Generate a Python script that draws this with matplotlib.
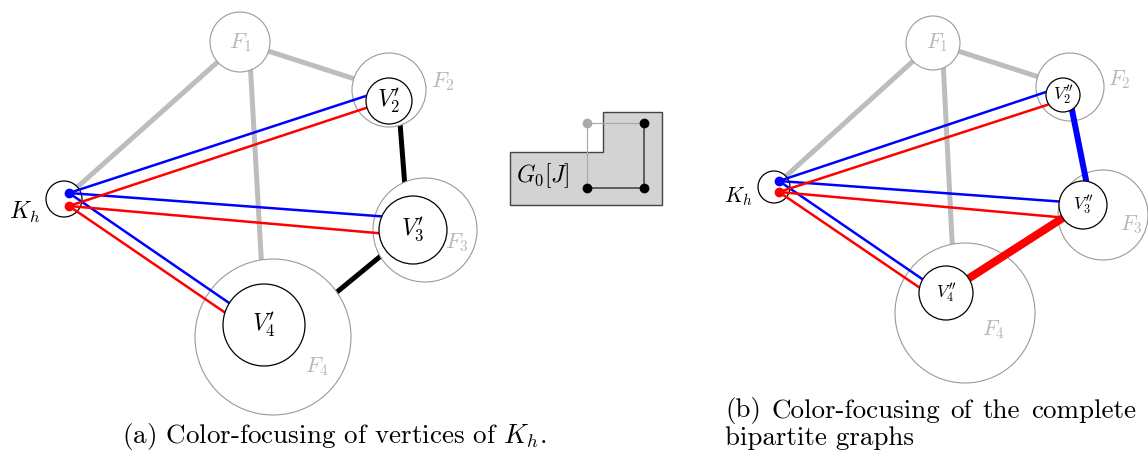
"""Color-focusing diagram: (a) vertices of K_h, (b) complete bipartite graphs."""

import matplotlib

matplotlib.use("Agg")
from matplotlib import pyplot as plt
from matplotlib.patches import Circle, Polygon

plt.rcParams["mathtext.fontset"] = "cm"
plt.rcParams["font.family"] = "serif"
plt.rcParams["font.serif"] = ["cmr10", "DejaVu Serif"]

PX = 72 / 100  # points per pixel at dpi 100
GREY_EDGE = "#9a9a9a"
GREY_LINE = "#bdbdbd"
GREY_TEXT = "#b8b8b8"

# ---- panel (a): nodes as (x, y, radius) in pixels ----
a_groups = {"F1": (240, 42, 30), "F2": (389, 90, 37), "F3": (425, 230, 52), "F4": (273, 337, 78)}
a_parts = {"V2": (389, 101, 23), "V3": (413, 230, 34), "V4": (264, 325, 41)}
a_kh = (64, 199, 18)
a_group_labels = {"F1": (240, 43), "F2": (443, 82), "F3": (457, 243), "F4": (317, 367)}
a_part_labels = {"V2": r"$V_2'$", "V3": r"$V_3'$", "V4": r"$V_4'$"}
a_grey_edges = [((64, 199), (240, 42)), ((240, 42), (389, 90)), ((250, 60), (263, 290))]
a_black_edges = [((399, 110), (406, 200)), ((388, 250), (320, 306))]
a_blue_dot = (69, 193)
a_red_dot = (69, 206)
a_blue_ends = [(372, 94), (390, 217), (235, 307)]
a_red_ends = [(372, 106), (388, 234), (230, 316)]

# ---- panel (b) ----
b_groups = {"F1": (933, 43, 27), "F2": (1070, 87, 34), "F3": (1103, 215, 45), "F4": (965, 313, 70)}
b_parts = {"V2": (1063, 95, 17), "V3": (1083, 205, 24), "V4": (946, 293, 27)}
b_kh = (774, 187, 16)
b_group_labels = {"F1": (937, 43), "F2": (1119, 80), "F3": (1131, 225), "F4": (993, 330)}
b_part_labels = {"V2": r"$V_2''$", "V3": r"$V_3''$", "V4": r"$V_4''$"}
b_grey_edges = [((774, 187), (933, 43)), ((933, 43), (1070, 87)), ((943, 60), (953, 260))]
b_blue_thick = ((1071, 105), (1088, 190))
b_red_thick = ((1083, 205), (946, 293))
b_blue_dot = (779, 181)
b_red_dot = (779, 192)
b_blue_ends = [(1052, 90), (1066, 202), (928, 283)]
b_red_ends = [(1053, 103), (1068, 218), (923, 290)]

# ---- middle: G0[J] ----
g0_outline = [(510, 205), (510, 152), (603, 152), (603, 112), (662, 112), (662, 205)]
g0_grey_dot = (587, 123)
g0_black_dots = [(644, 123), (587, 188), (644, 188)]

caption_a = r"(a) Color-focusing of vertices of $K_h$."
caption_b_line1 = ["(b)", "Color-focusing", "of", "the", "complete"]
caption_b_line2 = "bipartite graphs"

fig = plt.figure(figsize=(11.48, 4.55), dpi=100)
ax = fig.add_axes([0, 0, 1, 1])
ax.set_xlim(0, 1148)
ax.set_ylim(455, 0)
ax.set_aspect("equal")
ax.axis("off")
renderer = fig.canvas.get_renderer()


def seg(p, q, color, width_px, z):
    ax.plot([p[0], q[0]], [p[1], q[1]], color=color, lw=width_px * PX,
            solid_capstyle="butt", zorder=z)


def panel(groups, parts, kh, group_labels, part_labels, grey_edges, blue_dot, red_dot,
          blue_ends, red_ends, fs_group, fs_part, kh_label_xy, fs_kh):
    for p, q in grey_edges:
        seg(p, q, GREY_LINE, 5, 1)
    for name, (x, y, r) in groups.items():
        ax.add_patch(Circle((x, y), r, facecolor="white", edgecolor=GREY_EDGE, lw=0.8, zorder=2))
        lx, ly = group_labels[name]
        ax.text(lx, ly, rf"$F_{name[1]}$", color=GREY_TEXT, fontsize=fs_group,
                ha="center", va="center", zorder=6)
    ax.add_patch(Circle(kh[:2], kh[2], facecolor="white", edgecolor="black", lw=0.9, zorder=2))
    ax.text(*kh_label_xy, r"$K_h$", fontsize=fs_kh, ha="center", va="center", zorder=6)
    for end in blue_ends:
        seg(blue_dot, end, "blue", 2.5, 3)
    for end in red_ends:
        seg(red_dot, end, "red", 2.5, 3)
    ax.plot(*blue_dot, "o", color="blue", ms=6, zorder=5)
    ax.plot(*red_dot, "o", color="red", ms=6, zorder=5)
    for name, (x, y, r) in parts.items():
        ax.add_patch(Circle((x, y), r, facecolor="white", edgecolor="black", lw=0.9, zorder=4))
        ax.text(x, y, part_labels[name], fontsize=fs_part, ha="center", va="center", zorder=6)


panel(a_groups, a_parts, a_kh, a_group_labels, a_part_labels, a_grey_edges, a_blue_dot,
      a_red_dot, a_blue_ends, a_red_ends, 16, 17, (25, 212), 17)
for p, q in a_black_edges:
    seg(p, q, "black", 5, 1)

panel(b_groups, b_parts, b_kh, b_group_labels, b_part_labels, b_grey_edges, b_blue_dot,
      b_red_dot, b_blue_ends, b_red_ends, 15.5, 12.5, (738, 197), 15.5)
seg(*b_blue_thick, "blue", 6, 3)
seg(*b_red_thick, "red", 8, 3)

# middle inset
ax.add_patch(Polygon(g0_outline, closed=True, facecolor="#d3d3d3", edgecolor="#444444",
                     lw=1.0, zorder=1))
seg(g0_grey_dot, g0_black_dots[0], "#aaaaaa", 1.2, 2)
seg(g0_grey_dot, g0_black_dots[1], "#aaaaaa", 1.2, 2)
seg(g0_black_dots[1], g0_black_dots[2], "#444444", 1.6, 2)
seg(g0_black_dots[0], g0_black_dots[2], "#444444", 1.6, 2)
ax.plot(*g0_grey_dot, "o", color="#aaaaaa", ms=6, zorder=3)
for d in g0_black_dots:
    ax.plot(*d, "o", color="black", ms=6, zorder=3)
ax.text(543, 176, r"$G_0[J]$", fontsize=17, ha="center", va="center", zorder=4)

# captions: caption (a) sized to the width it takes in the original, (b) uses the same size
cap_a = ax.text(122, 437, caption_a, fontsize=16, ha="left", va="center")
cap_fs = 16 * 425 / cap_a.get_window_extent(renderer).width
cap_a.set_fontsize(cap_fs)

# first line of (b) is justified between x=725 and x=1136
words = [ax.text(0, 411, w, fontsize=cap_fs, ha="left", va="center") for w in caption_b_line1]
widths = [w.get_window_extent(renderer).width for w in words]
left, right = 725, 1136
gap = (right - left - sum(widths)) / (len(words) - 1)
x = left
for w, wd in zip(words, widths):
    w.set_x(x)
    x += wd + gap
ax.text(left, 438, caption_b_line2, fontsize=cap_fs, ha="left", va="center")

fig.savefig("out.png", dpi=100)
plt.close(fig)
